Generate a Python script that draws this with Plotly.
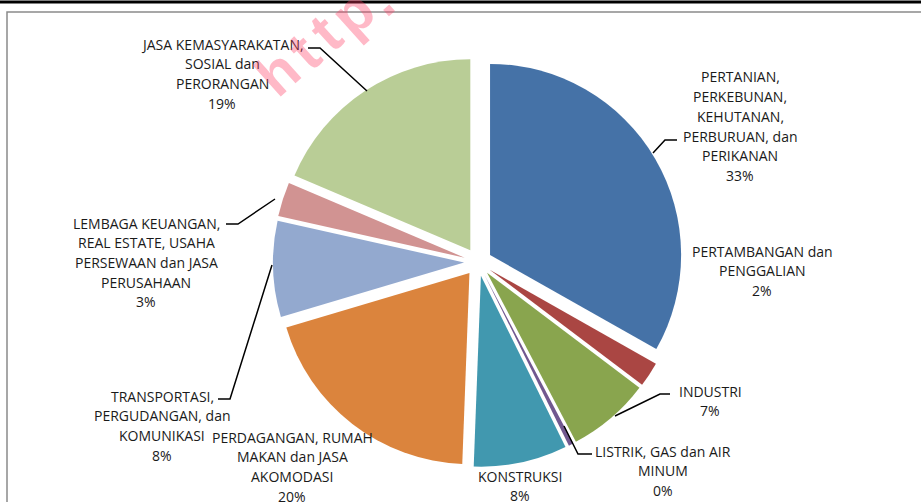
import plotly.graph_objects as go

# ---- data ----
sectors = [
    "PERTANIAN,<br>PERKEBUNAN,<br>KEHUTANAN,<br>PERBURUAN, dan<br>PERIKANAN",
    "PERTAMBANGAN dan<br>PENGGALIAN",
    "INDUSTRI",
    "LISTRIK, GAS dan AIR<br>MINUM",
    "KONSTRUKSI",
    "PERDAGANGAN, RUMAH<br>MAKAN dan JASA<br>AKOMODASI",
    "TRANSPORTASI,<br>PERGUDANGAN, dan<br>KOMUNIKASI",
    "LEMBAGA KEUANGAN,<br>REAL ESTATE, USAHA<br>PERSEWAAN dan JASA<br>PERUSAHAAN",
    "JASA KEMASYARAKATAN,<br>SOSIAL dan<br>PERORANGAN",
]
shares = [33.2, 2.1, 7.0, 0.4, 7.9, 19.8, 8.1, 2.9, 18.6]
colors = ["#4572A7", "#AA4643", "#89A54E", "#71588F", "#4198AF",
          "#DB843D", "#93A9CF", "#D19392", "#B9CD96"]

# ---- layout helpers (pixel positions of the label blocks) ----
W, H = 921, 502
label_pos = [(740, 77), (762, 251), (710, 391), (663, 451), (520, 476),
             (292, 437), (162, 396), (146, 223), (222, 44)]
leaders = [
    [(677, 140), (665, 140), (653, 153)],
    None,
    [(670, 394), (660, 394), (615, 416)],
    [(592, 454), (578, 454), (564, 426)],
    None,
    None,
    [(218, 399), (230, 399), (272, 265)],
    [(226, 224), (238, 224), (275, 199)],
    [(308, 48), (320, 48), (367, 91)],
]
LINE_H = 19.7

def px(x):
    return x / W

def py(y):
    return 1 - y / H

fig = go.Figure(go.Pie(
    labels=[s.replace("<br>", " ") for s in sectors],
    values=shares,
    marker=dict(colors=colors, line=dict(width=0)),
    sort=False,
    direction="clockwise",
    rotation=0,
    pull=[0.073] * len(shares),
    textinfo="none",
    hoverinfo="label+percent",
    showlegend=False,
    domain=dict(x=[0.2964, 0.7416], y=[0.0697, 0.8865]),
))

total = sum(shares)
annotations = []
for name, v, (cx, cy) in zip(sectors, shares, label_pos):
    lines = name.split("<br>") + [f"{round(v / total * 100)}%"]
    for i, ln in enumerate(lines):
        annotations.append(dict(
            x=px(cx), y=py(cy + i * LINE_H), xref="paper", yref="paper",
            text=ln, showarrow=False, xanchor="center", yanchor="middle",
            font=dict(family="Open Sans", size=14, color="#1a1a1a"),
        ))

# watermark
wm = [("h", 277, 73), ("t", 303, 51), ("t", 325, 33), ("p", 352, 13), (".", 378, -2)]
for ch, x, y in wm:
    annotations.append(dict(
        x=px(x), y=py(y), xref="paper", yref="paper", text=ch, showarrow=False,
        textangle=-42, xanchor="center", yanchor="middle",
        font=dict(family="Liberation Sans", size=58, weight="bold",
                  color="rgba(255,60,100,0.36)"),
    ))

shapes = []
for pts in leaders:
    if not pts:
        continue
    path = "M " + " L ".join(f"{px(x)},{py(y)}" for x, y in pts)
    shapes.append(dict(type="path", path=path, xref="paper", yref="paper",
                       line=dict(color="black", width=1.5)))
# chart frame and top rule
shapes.append(dict(type="rect", x0=px(7), y0=py(520), x1=px(940), y1=py(12),
                   xref="paper", yref="paper", line=dict(color="#8a8a8a", width=1.5)))
shapes.append(dict(type="line", x0=0, x1=1, y0=py(2), y1=py(2),
                   xref="paper", yref="paper", line=dict(color="black", width=3)))

fig.update_layout(
    width=W, height=H, autosize=False,
    margin=dict(l=0, r=0, t=0, b=0),
    paper_bgcolor="white", plot_bgcolor="white",
    annotations=annotations, shapes=shapes,
)
fig.write_html("out.html",
               config={"displayModeBar": False},
               post_script="document.body.style.margin='0';"
                           "document.body.style.overflow='hidden';")
